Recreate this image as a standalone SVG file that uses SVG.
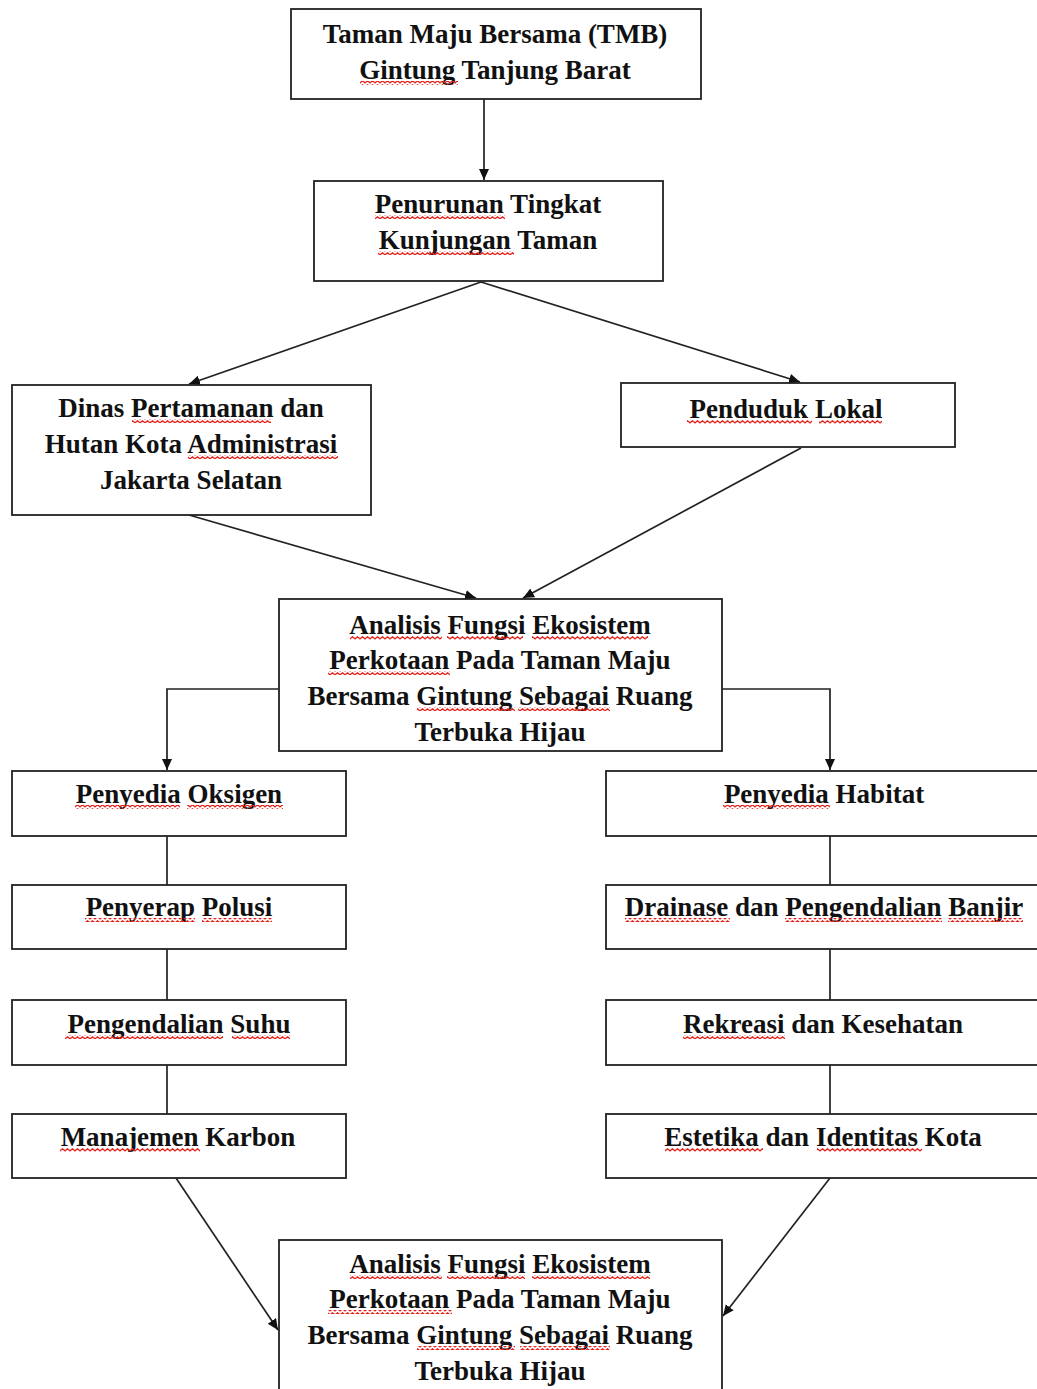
<svg xmlns="http://www.w3.org/2000/svg" width="1037" height="1389" viewBox="0 0 1037 1389">
<defs>
<style>
.box{fill:#fff;stroke:#222;stroke-width:1.8}
.t{font-family:"Liberation Serif","Times New Roman",serif;font-weight:bold;font-size:27px;fill:#111;text-anchor:middle}
.c{fill:none;stroke:#222;stroke-width:1.7}
.sq{fill:url(#wave)}
</style>
<pattern id="wave" patternUnits="userSpaceOnUse" width="5" height="4">
<path d="M-0.5 3.2 L2.5 0.8 L5.5 3.2" fill="none" stroke="#e3231c" stroke-width="1.3"/>
</pattern>
<marker id="ah" markerUnits="userSpaceOnUse" markerWidth="12" markerHeight="12" refX="11" refY="6" orient="auto">
<path d="M0 1 L11 6 L0 11 Z" fill="#111"/>
</marker>
</defs>
<rect width="1037" height="1389" fill="#fff"/>

<g id="connectors">
<line class="c" x1="484" y1="99" x2="484" y2="180" marker-end="url(#ah)"/>
<line class="c" x1="481" y1="282" x2="189" y2="384" marker-end="url(#ah)"/>
<line class="c" x1="481" y1="282" x2="800" y2="382" marker-end="url(#ah)"/>
<line class="c" x1="189" y1="515" x2="476" y2="598" marker-end="url(#ah)"/>
<line class="c" x1="801" y1="448" x2="523" y2="598" marker-end="url(#ah)"/>
<polyline class="c" points="279,689 167,689 167,770" marker-end="url(#ah)"/>
<polyline class="c" points="722,689 830,689 830,770" marker-end="url(#ah)"/>
<line class="c" x1="167" y1="836" x2="167" y2="885"/>
<line class="c" x1="167" y1="949" x2="167" y2="1000"/>
<line class="c" x1="167" y1="1065" x2="167" y2="1114"/>
<line class="c" x1="830" y1="836" x2="830" y2="885"/>
<line class="c" x1="830" y1="949" x2="830" y2="1000"/>
<line class="c" x1="830" y1="1065" x2="830" y2="1114"/>
<line class="c" x1="176" y1="1178" x2="278" y2="1330" marker-end="url(#ah)"/>
<line class="c" x1="830" y1="1178" x2="723" y2="1316" marker-end="url(#ah)"/>
</g>

<g id="n1">
<rect class="box" x="291" y="9" width="410" height="90"/>
<text class="t" x="495" y="43">Taman Maju Bersama (TMB)</text>
<text class="t" x="495" y="79">Gintung Tanjung Barat</text>
<rect class="sq" x="360" y="81" width="98" height="4"/>
</g>

<g id="n2">
<rect class="box" x="314" y="181" width="349" height="100"/>
<text class="t" x="488" y="213">Penurunan Tingkat</text>
<text class="t" x="488" y="249">Kunjungan Taman</text>
<rect class="sq" x="375" y="215" width="130" height="4"/>
<rect class="sq" x="378" y="251" width="136" height="4"/>
</g>

<g id="n3">
<rect class="box" x="12" y="385" width="359" height="130"/>
<text class="t" x="191" y="417">Dinas Pertamanan dan</text>
<text class="t" x="191" y="453">Hutan Kota Administrasi</text>
<text class="t" x="191" y="489">Jakarta Selatan</text>
<rect class="sq" x="132" y="419" width="139" height="4"/>
<rect class="sq" x="188" y="455" width="150" height="4"/>
</g>

<g id="n4">
<rect class="box" x="621" y="383" width="334" height="64"/>
<text class="t" x="786" y="418">Penduduk Lokal</text>
<rect class="sq" x="687" y="420" width="125" height="4"/>
<rect class="sq" x="819" y="420" width="63" height="4"/>
</g>

<g id="n5">
<rect class="box" x="279" y="599" width="443" height="152"/>
<text class="t" x="500" y="634">Analisis Fungsi Ekosistem</text>
<text class="t" x="500" y="669">Perkotaan Pada Taman Maju</text>
<text class="t" x="500" y="705">Bersama Gintung Sebagai Ruang</text>
<text class="t" x="500" y="741">Terbuka Hijau</text>
<rect class="sq" x="350" y="636" width="92" height="4"/>
<rect class="sq" x="447" y="636" width="76" height="4"/>
<rect class="sq" x="532" y="636" width="116" height="4"/>
<rect class="sq" x="328" y="671" width="122" height="4"/>
<rect class="sq" x="417" y="707" width="98" height="4"/>
<rect class="sq" x="518" y="707" width="92" height="4"/>
</g>

<g id="n6">
<rect class="box" x="12" y="771" width="334" height="65"/>
<text class="t" x="179" y="803">Penyedia Oksigen</text>
<rect class="sq" x="75" y="805" width="105" height="4"/>
<rect class="sq" x="187" y="805" width="96" height="4"/>
</g>

<g id="n7">
<rect class="box" x="12" y="885" width="334" height="64"/>
<text class="t" x="179" y="916">Penyerap Polusi</text>
<rect class="sq" x="85" y="918" width="110" height="4"/>
<rect class="sq" x="202" y="918" width="70" height="4"/>
</g>

<g id="n8">
<rect class="box" x="12" y="1000" width="334" height="65"/>
<text class="t" x="179" y="1033">Pengendalian Suhu</text>
<rect class="sq" x="65" y="1035" width="158" height="4"/>
<rect class="sq" x="232" y="1035" width="58" height="4"/>
</g>

<g id="n9">
<rect class="box" x="12" y="1114" width="334" height="64"/>
<text class="t" x="178" y="1146">Manajemen Karbon</text>
<rect class="sq" x="60" y="1148" width="140" height="4"/>
</g>

<g id="n10">
<rect class="box" x="606" y="771" width="440" height="65"/>
<text class="t" x="824" y="803">Penyedia Habitat</text>
<rect class="sq" x="723" y="805" width="107" height="4"/>
</g>

<g id="n11">
<rect class="box" x="606" y="885" width="440" height="64"/>
<text class="t" x="824" y="916">Drainase dan Pengendalian Banjir</text>
<rect class="sq" x="625" y="918" width="105" height="4"/>
<rect class="sq" x="785" y="918" width="157" height="4"/>
<rect class="sq" x="948" y="918" width="75" height="4"/>
</g>

<g id="n12">
<rect class="box" x="606" y="1000" width="440" height="65"/>
<text class="t" x="823" y="1033">Rekreasi dan Kesehatan</text>
<rect class="sq" x="683" y="1035" width="102" height="4"/>
</g>

<g id="n13">
<rect class="box" x="606" y="1114" width="440" height="64"/>
<text class="t" x="823" y="1146">Estetika dan Identitas Kota</text>
<rect class="sq" x="665" y="1148" width="98" height="4"/>
<rect class="sq" x="817" y="1148" width="105" height="4"/>
</g>

<g id="n14">
<rect class="box" x="279" y="1240" width="443" height="170"/>
<text class="t" x="500" y="1273">Analisis Fungsi Ekosistem</text>
<text class="t" x="500" y="1308">Perkotaan Pada Taman Maju</text>
<text class="t" x="500" y="1344">Bersama Gintung Sebagai Ruang</text>
<text class="t" x="500" y="1380">Terbuka Hijau</text>
<rect class="sq" x="350" y="1275" width="92" height="4"/>
<rect class="sq" x="447" y="1275" width="78" height="4"/>
<rect class="sq" x="532" y="1275" width="118" height="4"/>
<rect class="sq" x="328" y="1310" width="124" height="4"/>
<rect class="sq" x="417" y="1346" width="98" height="4"/>
<rect class="sq" x="520" y="1346" width="90" height="4"/>
</g>
</svg>
